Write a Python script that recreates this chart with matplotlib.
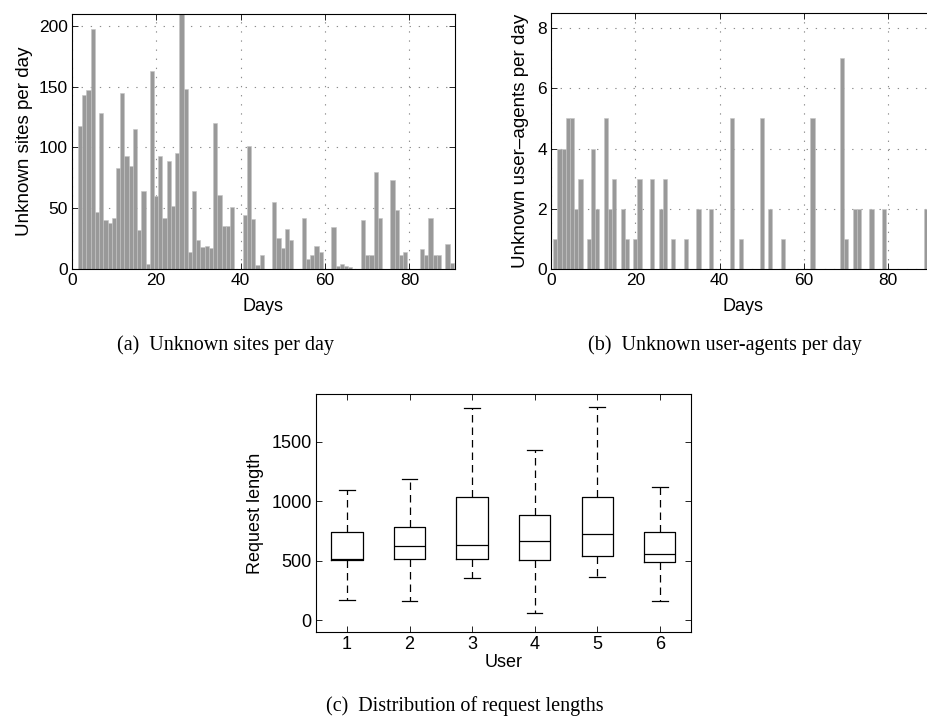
import numpy as np
import matplotlib
matplotlib.use('agg')
import matplotlib.pyplot as plt

plt.rcParams['font.family'] = ['Liberation Sans', 'DejaVu Sans']

# values, one per day (1..90)
days = np.arange(1, 91)
sites = [0, 118, 143, 147, 198, 47, 128, 40, 38, 42,
         83, 145, 93, 85, 115, 32, 64, 4, 163, 60,
         93, 42, 89, 52, 95, 212, 148, 14, 64, 24,
         18, 19, 17, 120, 61, 35, 35, 51, 0, 0,
         44, 101, 41, 3, 11, 0, 0, 55, 25, 17,
         33, 24, 0, 0, 42, 8, 11, 19, 14, 0,
         0, 34, 2, 4, 2, 1, 0, 0, 40, 11,
         11, 80, 42, 0, 0, 73, 48, 11, 14, 0,
         0, 0, 16, 11, 42, 11, 11, 0, 20, 5]
agents = [1, 4, 4, 5, 5, 2, 3, 0, 1, 4,
          2, 0, 5, 2, 3, 0, 2, 1, 0, 1,
          3, 0, 0, 3, 0, 2, 3, 0, 1, 0,
          0, 1, 0, 0, 2, 0, 0, 2, 0, 0,
          0, 0, 5, 0, 1, 0, 0, 0, 0, 5,
          0, 2, 0, 0, 1, 0, 0, 0, 0, 0,
          0, 5, 0, 0, 0, 0, 0, 0, 7, 1,
          0, 2, 2, 0, 0, 2, 0, 0, 2, 0,
          0, 0, 0, 0, 0, 0, 0, 0, 2, 0]

users = [1, 2, 3, 4, 5, 6]
whis_lo = [171, 160, 354, 65, 368, 163]
q1 = [506, 520, 520, 511, 545, 494]
med = [514, 629, 635, 669, 722, 562]
q3 = [744, 789, 1037, 882, 1039, 744]
whis_hi = [1098, 1185, 1787, 1435, 1792, 1124]

W, H = 928, 724
fig = plt.figure(figsize=(W / 100, H / 100), dpi=100)


def box_axes(l, t, r, b):
    return fig.add_axes([l / W, 1 - b / H, (r - l) / W, (b - t) / H])


def style(ax, size):
    ax.tick_params(direction='in', top=True, right=True, length=4,
                   width=0.6, labelsize=size, pad=3)
    for s in ax.spines.values():
        s.set_linewidth(0.8)


grid_kw = dict(color='#8c8c8c', linestyle=(0, (1.2, 7)), linewidth=0.8)

# (a)
ax1 = box_axes(71.7, 14, 455, 268.7)
ax1.bar(days, sites, width=1.0, color='#999999', edgecolor='#c4c4c4', linewidth=0.4)
ax1.set_xlim(0, 90.8)
ax1.set_ylim(0, 210)
ax1.set_xticks([0, 20, 40, 60, 80])
ax1.set_yticks([0, 50, 100, 150, 200])
ax1.set_axisbelow(True)
ax1.grid(True, **grid_kw)
style(ax1, 12.5)
ax1.set_xlabel('Days', fontsize=13, labelpad=7)
ax1.set_ylabel('Unknown sites per day', fontsize=13.5, labelpad=4)

# (b)
ax2 = box_axes(551, 13.3, 551 + 91 * 4.217, 268.7)
ax2.bar(days, agents, width=1.0, color='#999999', edgecolor='#c4c4c4', linewidth=0.4)
ax2.set_xlim(0, 91)
ax2.set_ylim(0, 8.5)
ax2.set_xticks([0, 20, 40, 60, 80])
ax2.set_yticks([0, 2, 4, 6, 8])
ax2.set_axisbelow(True)
ax2.grid(True, **grid_kw)
style(ax2, 12.5)
ax2.set_xlabel('Days', fontsize=13, labelpad=7)
ax2.set_ylabel('Unknown user\u2013agents per day', fontsize=13.5, labelpad=6)

# (c)
ax3 = box_axes(315.7, 394.3, 691, 631.7)
stats = [dict(med=m, q1=a, q3=b, whislo=lo, whishi=hi, fliers=[])
         for m, a, b, lo, hi in zip(med, q1, q3, whis_lo, whis_hi)]
ax3.bxp(stats, positions=users, widths=0.5, capwidths=0.25, showfliers=False,
        boxprops=dict(color='black', linewidth=0.9),
        medianprops=dict(color='black', linewidth=0.9),
        whiskerprops=dict(color='black', linewidth=0.9, linestyle=(0, (6, 4))),
        capprops=dict(color='black', linewidth=0.9))
ax3.set_xlim(0.5, 6.5)
ax3.set_ylim(-95, 1900)
ax3.set_xticks(users)
ax3.set_xticklabels([str(u) for u in users])
ax3.set_yticks([0, 500, 1000, 1500])
style(ax3, 13)
ax3.set_xlabel('User', fontsize=13, labelpad=1)
ax3.set_ylabel('Request length', fontsize=13, labelpad=5)

# captions
cap = dict(family=['Liberation Serif', 'DejaVu Serif'], fontsize=14.5,
           ha='center', va='center')
fig.text(226 / W, 1 - 345 / H, '(a)  Unknown sites per day', **cap)
fig.text(725 / W, 1 - 345 / H, '(b)  Unknown user-agents per day', **cap)
fig.text(465 / W, 1 - 706 / H, '(c)  Distribution of request lengths', **cap)

fig.savefig('out.png', dpi=100, facecolor='white')
